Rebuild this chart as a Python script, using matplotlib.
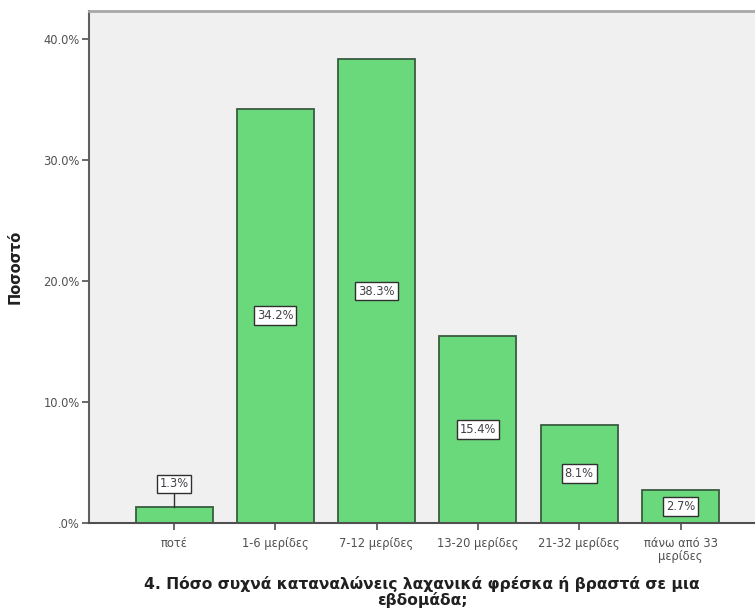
import matplotlib
matplotlib.use("Agg")
import matplotlib.pyplot as plt

categories = ['ποτέ', '1-6 μερίδες', '7-12 μερίδες', '13-20 μερίδες',
              '21-32 μερίδες', 'πάνω από 33\nμερίδες']
values = [1.3, 34.2, 38.3, 15.4, 8.1, 2.7]
yticks = [0, 10, 20, 30, 40]
ytick_labels = ['.0%', '10.0%', '20.0%', '30.0%', '40.0%']
xlabel = '4. Πόσο συχνά καταναλώνεις λαχανικά φρέσκα ή βραστά σε μια\nεβδομάδα;'
ylabel = 'Ποσοστό'

fig = plt.figure(figsize=(7.55, 6.14), dpi=100, facecolor='white')
ax = fig.add_axes([0.1183, 0.1487, 0.8817, 0.8334])
ax.set_facecolor('#f0f0f0')

x = list(range(len(categories)))
ax.bar(x, values, width=0.76, color='#6ad97c', edgecolor='#3a5c40',
       linewidth=1.3, zorder=2)

ax.set_xlim(-0.836, 5.735)
ax.set_ylim(0, 42.3)

ax.set_yticks(yticks)
ax.set_yticklabels(ytick_labels)
ax.set_xticks(x)
ax.set_xticklabels(categories, linespacing=1.0)
ax.tick_params(axis='both', direction='out', length=5, width=1.2,
               color='#505050', labelcolor='#505050', labelsize=8.3)
ax.tick_params(axis='x', pad=5)
ax.tick_params(axis='y', pad=2)
for lab in ax.get_xticklabels() + ax.get_yticklabels():
    lab.set_fontfamily('DejaVu Sans')

ax.spines['left'].set_color('#606060')
ax.spines['left'].set_linewidth(1.5)
ax.spines['bottom'].set_color('#505050')
ax.spines['bottom'].set_linewidth(1.5)
ax.spines['top'].set_color('#a8a8a8')
ax.spines['top'].set_linewidth(2.0)
ax.spines['right'].set_visible(False)

ax.set_xlabel(xlabel, fontsize=11.2, fontweight='bold', family='DejaVu Sans',
              labelpad=9.5, linespacing=1.05, color='#202020')
ax.set_ylabel(ylabel, fontsize=10.5, fontweight='bold', family='DejaVu Sans',
              color='#202020')
ax.yaxis.set_label_coords(-0.100, 0.5)

box = dict(boxstyle='square,pad=0.25', facecolor='white',
           edgecolor='#303030', linewidth=1.0)
for xi, v in zip(x, values):
    if v >= 2:
        ax.text(xi, v / 2, f'{v:.1f}%', ha='center', va='center',
                fontsize=8.3, family='DejaVu Sans', color='#404048',
                bbox=box, zorder=4)
    else:
        ly = v + 1.9
        ax.plot([xi, xi], [v, ly], color='#303030', linewidth=1.0, zorder=3)
        ax.text(xi, ly, f'{v:.1f}%', ha='center', va='center',
                fontsize=8.3, family='DejaVu Sans', color='#404048',
                bbox=box, zorder=4)

fig.savefig('out.png', dpi=100, facecolor='white')
